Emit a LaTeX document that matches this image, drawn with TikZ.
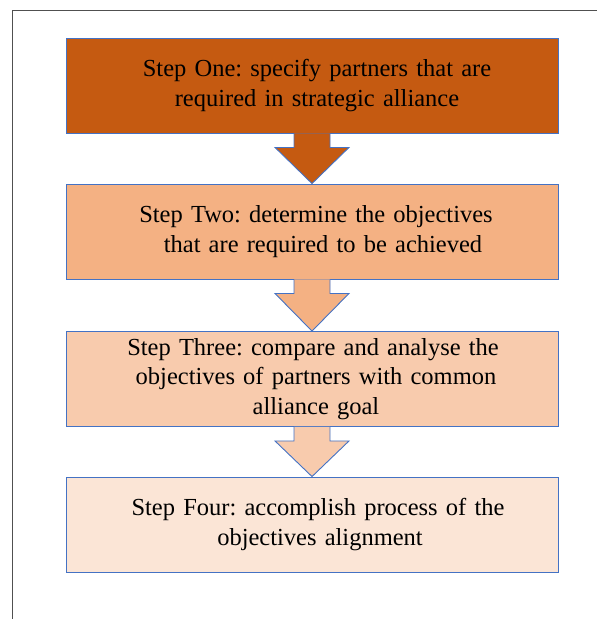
\documentclass[tikz,border=0pt]{standalone}
\usepackage{fontspec}
\setmainfont{Liberation Serif}
\usetikzlibrary{calc}
\definecolor{stepA}{HTML}{C55A11}
\definecolor{stepB}{HTML}{F4B183}
\definecolor{stepC}{HTML}{F8CBAD}
\definecolor{stepD}{HTML}{FBE5D6}
\definecolor{edgeblue}{HTML}{4472C4}
\definecolor{framegray}{HTML}{505050}
\newcommand{\ind}[1][10pt]{\hspace*{#1}}
\tikzset{
  stepbox/.style={draw=edgeblue, line width=0.9pt, minimum width=492pt, minimum height=95pt,
    text width=480pt, align=center, inner sep=0pt,
    font=\fontsize{24.5}{29.5}\selectfont\frenchspacing},
  flowarrow/.style={draw=edgeblue, line width=0.9pt, line join=miter}
}
% block arrow from the bottom of one box to the top of the next
\newcommand{\blockarrow}[3]{%
  \fill[#3] ($(#1.south)+(-18pt,0)$) -- ++(0,-14pt) -- ++(-19pt,0) -- (#2.north)
     -- ($(#1.south)+(37pt,-14pt)$) -- ++(-19pt,0) -- ($(#1.south)+(18pt,0)$) -- cycle;
  \draw[flowarrow] ($(#1.south)+(-18pt,0)$) -- ++(0,-14pt) -- ++(-19pt,0) -- (#2.north)
     -- ($(#1.south)+(37pt,-14pt)$) -- ++(-19pt,0) -- ($(#1.south)+(18pt,0)$);
}
\begin{document}
\begin{tikzpicture}[x=1pt,y=1pt]
  \useasboundingbox (0,0) rectangle (597,-619);
  % page frame
  \draw[framegray, line width=0.8pt] (12,-619) -- (12,-10) -- (597,-10);
  % steps
  \node[stepbox, fill=stepA] (s1) at (312,-85.5)
    {\ind Step One: specify partners that are\\ \ind required in strategic alliance};
  \node[stepbox, fill=stepB] (s2) at (312,-231.5)
    {\ind[8pt]Step Two: determine the objectives\\ \ind[22pt]that are required to be achieved};
  \node[stepbox, fill=stepC] (s3) at (312,-379)
    {\ind[2pt]Step Three: compare and analyse the\\ \ind[8pt]objectives of partners with common\\ \ind[8pt]alliance goal};
  \node[stepbox, fill=stepD] (s4) at (312,-524.5)
    {\ind[12pt]Step Four: accomplish process of the\\ \ind[16pt]objectives alignment};
  % connecting block arrows
  \blockarrow{s1}{s2}{stepA}
  \blockarrow{s2}{s3}{stepB}
  \blockarrow{s3}{s4}{stepC}
\end{tikzpicture}
\end{document}
